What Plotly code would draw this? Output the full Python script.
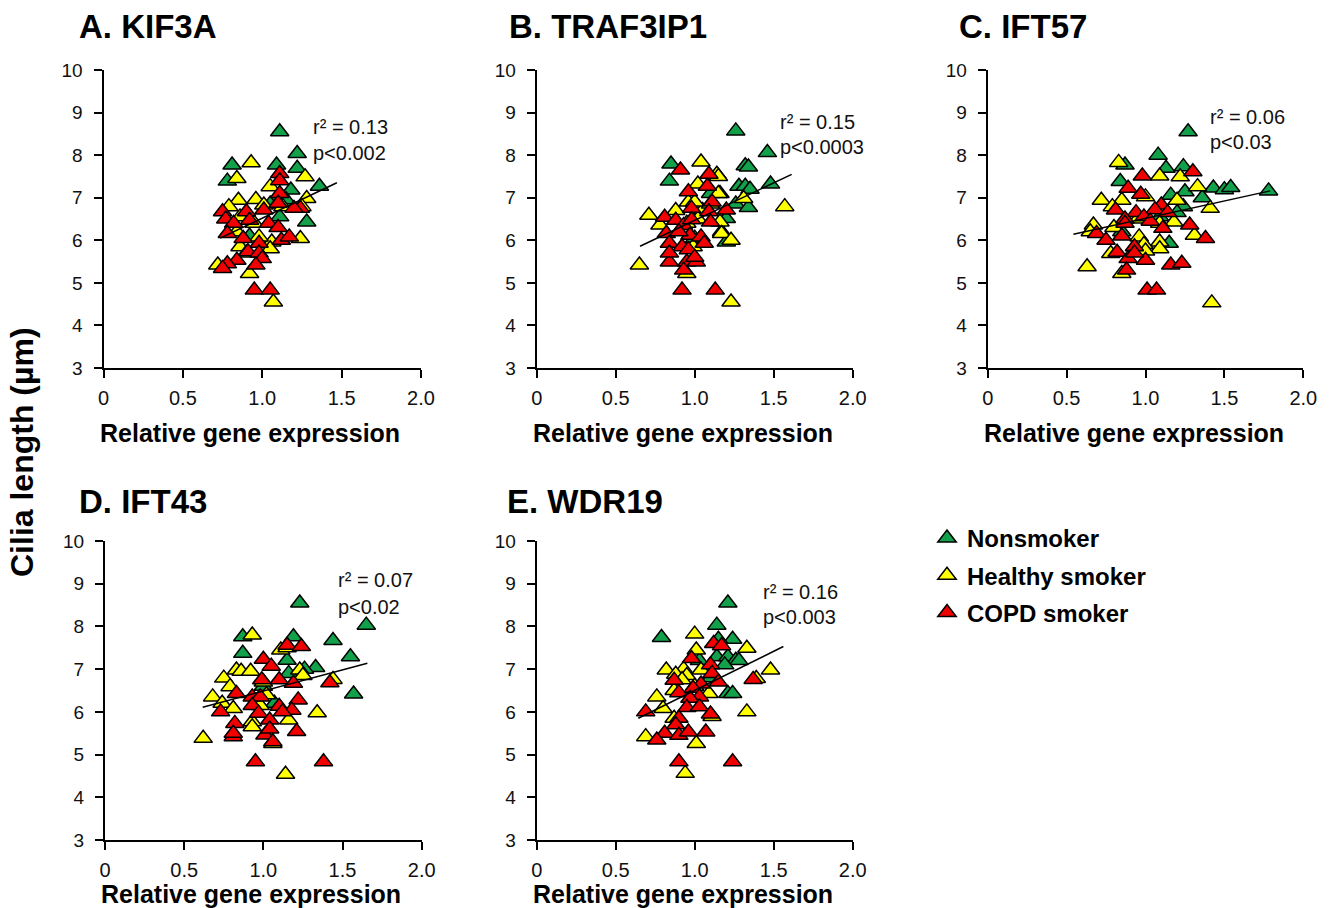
import plotly.graph_objects as go

# ---- data: relative gene expression (x) vs cilia length in µm (y) ----
panel_titles = ["A. KIF3A", "B. TRAF3IP1", "C. IFT57", "D. IFT43", "E. WDR19"]
r2_labels = ["r² = 0.13", "r² = 0.15", "r² = 0.06", "r² = 0.07", "r² = 0.16"]
p_labels = ["p<0.002", "p<0.0003", "p<0.03", "p<0.02", "p<0.003"]
group_names = ["Nonsmoker", "Healthy smoker", "COPD smoker"]
group_colors = ["#13A04B", "#FFFF00", "#F20000"]

# linear fit for each panel: x span of the line, slope, intercept
fit_x0 = [0.735, 0.654, 0.543, 0.617, 0.643]
fit_x1 = [1.470, 1.614, 1.790, 1.657, 1.561]
fit_slope = [1.769, 1.760, 0.818, 0.990, 1.830]
fit_intercept = [4.750, 4.709, 5.696, 5.499, 4.673]

# A. KIF3A
kif3a_non_x = [1.11, 1.22, 0.81, 1.09, 1.22, 0.78, 1.36, 1.18, 1.28, 1.11, 1.10, 0.92, 1.05, 1.15]
kif3a_non_y = [8.55, 8.04, 7.77, 7.77, 7.69, 7.39, 7.27, 7.18, 6.43, 6.55, 7.00, 6.10, 6.85, 6.95]
kif3a_hs_x = [0.93, 0.84, 1.27, 1.05, 1.28, 0.85, 0.96, 0.79, 1.01, 1.25, 1.13, 0.86, 0.95, 0.84,
              1.24, 1.06, 0.98, 0.86, 1.05, 0.72, 0.92, 1.07, 0.90]
kif3a_hs_y = [7.82, 7.45, 7.49, 7.26, 6.98, 6.94, 6.96, 6.79, 6.83, 6.79, 6.79, 6.55, 6.40, 6.20,
              6.04, 5.96, 6.08, 5.85, 5.80, 5.42, 5.22, 4.55, 5.70]
kif3a_copd_x = [1.11, 1.11, 1.11, 1.10, 1.24, 1.20, 1.01, 0.90, 0.75, 0.77, 0.82, 0.92, 1.04, 0.78,
                1.10, 0.88, 0.98, 1.12, 1.17, 0.91, 0.98, 1.00, 0.84, 0.78, 0.75, 0.96, 0.95, 1.05]
kif3a_copd_y = [7.57, 7.40, 7.10, 6.87, 6.75, 6.75, 6.71, 6.67, 6.67, 6.50, 6.40, 6.47, 6.40, 6.16,
                6.30, 6.04, 5.93, 6.00, 6.08, 5.73, 5.70, 5.57, 5.53, 5.45, 5.34, 5.42, 4.83, 4.83]

# B. TRAF3IP1
traf3ip1_non_x = [1.26, 1.46, 0.85, 1.32, 1.34, 0.84, 1.48, 1.28, 1.32, 1.35, 1.16, 1.26, 1.34,
                  1.20, 1.17, 1.20, 1.00, 1.10]
traf3ip1_non_y = [8.57, 8.06, 7.79, 7.75, 7.72, 7.39, 7.32, 7.27, 7.27, 7.20, 7.10, 6.85, 6.77,
                  6.51, 6.20, 5.96, 6.05, 7.10]
traf3ip1_hs_x = [1.04, 1.14, 1.02, 1.15, 1.57, 0.71, 1.31, 1.16, 1.17, 1.23, 0.65, 1.23, 0.95,
                 0.99, 0.78, 0.88, 0.96, 1.05, 1.00, 0.95, 1.10, 1.02, 1.15]
traf3ip1_hs_y = [7.84, 7.55, 7.32, 7.50, 6.79, 6.59, 6.98, 6.43, 6.16, 6.00, 5.42, 4.55, 5.22,
                 5.85, 6.36, 6.70, 6.90, 6.70, 6.90, 6.40, 6.85, 6.50, 7.10]
traf3ip1_copd_x = [0.91, 1.09, 1.08, 0.96, 1.11, 0.98, 0.81, 1.20, 1.09, 0.88, 0.93, 1.10, 0.98,
                   0.82, 0.97, 0.90, 1.04, 0.84, 1.06, 0.92, 0.96, 0.84, 0.95, 1.01, 0.93, 0.84,
                   0.92, 1.13, 1.00]
traf3ip1_copd_y = [7.65, 7.55, 7.27, 7.14, 6.90, 6.75, 6.54, 6.71, 6.67, 6.47, 6.35, 6.43, 6.48,
                   6.16, 6.12, 6.20, 6.08, 5.93, 5.93, 5.85, 5.78, 5.49, 5.49, 5.49, 5.30, 5.70,
                   4.83, 4.83, 5.60]

# C. IFT57
ift57_non_x = [1.27, 1.08, 0.87, 1.13, 1.24, 0.84, 1.43, 1.50, 1.54, 1.78, 1.25, 1.16, 1.36, 1.24,
               1.20, 1.09, 1.15, 0.85]
ift57_non_y = [8.55, 8.00, 7.77, 7.69, 7.73, 7.38, 7.23, 7.19, 7.24, 7.16, 7.14, 7.06, 7.00, 6.79,
               6.65, 6.55, 5.93, 6.20]
ift57_hs_x = [0.83, 1.09, 1.22, 1.33, 1.41, 0.72, 0.85, 0.79, 1.00, 1.20, 0.67, 0.65, 1.18, 0.80,
              1.09, 1.31, 0.96, 1.09, 1.09, 0.78, 0.99, 1.00, 0.63, 0.85, 1.42, 0.95]
ift57_hs_y = [7.83, 7.51, 7.49, 7.26, 6.75, 6.94, 6.94, 6.79, 7.02, 6.94, 6.36, 6.20, 6.43, 6.30,
              6.40, 6.12, 6.08, 5.96, 5.80, 5.69, 5.90, 5.75, 5.38, 5.22, 4.53, 6.50]
ift57_copd_x = [1.30, 0.98, 0.89, 0.97, 1.10, 1.06, 0.81, 0.94, 1.14, 0.99, 0.87, 1.03, 0.87, 1.28,
                1.11, 0.69, 0.75, 0.85, 1.38, 0.93, 0.82, 0.89, 1.00, 0.93, 1.16, 1.23, 0.88,
                1.01, 1.07]
ift57_copd_y = [7.61, 7.51, 7.22, 7.08, 6.83, 6.72, 6.71, 6.65, 6.65, 6.55, 6.50, 6.45, 6.40, 6.36,
                6.28, 6.16, 6.00, 6.10, 6.04, 5.85, 5.72, 5.57, 5.53, 5.70, 5.42, 5.46, 5.30,
                4.83, 4.83]

# D. IFT43
ift43_non_x = [1.23, 1.65, 1.44, 0.87, 0.87, 1.55, 1.19, 1.33, 1.15, 1.26, 1.57, 1.07, 1.00, 1.16]
ift43_non_y = [8.55, 8.03, 7.67, 7.76, 7.37, 7.29, 7.76, 7.04, 7.21, 7.00, 6.42, 6.20, 6.60, 6.90]
ift43_hs_x = [0.93, 1.11, 1.15, 0.75, 0.83, 0.86, 0.92, 0.68, 0.79, 0.74, 1.23, 1.25, 1.44, 0.81,
              0.93, 0.93, 1.16, 1.34, 0.62, 1.06, 1.14, 1.00, 1.02, 0.98]
ift43_hs_y = [7.80, 7.45, 7.50, 6.79, 6.98, 6.95, 6.95, 6.35, 6.59, 6.20, 6.98, 6.85, 6.76, 6.08,
              5.77, 5.65, 5.81, 5.98, 5.38, 5.26, 4.54, 6.70, 6.40, 6.15]
ift43_copd_x = [1.15, 1.24, 1.00, 1.05, 1.10, 1.19, 1.42, 0.99, 0.83, 0.93, 0.98, 1.22, 0.73, 0.93,
                0.97, 1.10, 1.18, 1.12, 1.04, 0.82, 0.81, 1.01, 1.21, 1.06, 0.95, 1.38, 0.81, 1.04]
ift43_copd_y = [7.56, 7.53, 7.23, 7.07, 6.75, 6.67, 6.68, 6.75, 6.43, 6.35, 6.35, 6.28, 6.00, 6.15,
                5.97, 6.13, 6.04, 6.00, 5.81, 5.73, 5.42, 5.46, 5.54, 5.30, 4.83, 4.83, 5.50, 5.60]

# E. WDR19
wdr19_non_x = [1.21, 0.79, 1.14, 1.24, 1.15, 1.14, 1.21, 1.26, 1.28, 1.19, 1.03, 1.21, 1.24, 1.10]
wdr19_non_y = [8.55, 7.74, 8.03, 7.70, 7.70, 7.29, 7.29, 7.21, 7.20, 7.10, 7.20, 6.43, 6.43, 6.80]
wdr19_hs_x = [1.00, 1.33, 1.01, 1.48, 0.82, 1.39, 0.93, 0.95, 1.04, 0.88, 0.76, 0.87, 1.09, 1.33,
              0.80, 1.11, 0.87, 0.69, 1.01, 0.94, 0.92, 1.00]
wdr19_hs_y = [7.82, 7.49, 7.45, 6.98, 6.98, 6.78, 7.00, 6.85, 6.98, 6.88, 6.35, 6.50, 6.43, 6.00,
              6.08, 5.89, 5.85, 5.42, 5.26, 4.56, 6.75, 6.60]
wdr19_copd_x = [1.12, 1.17, 0.98, 1.10, 1.37, 0.87, 1.11, 1.15, 1.04, 0.99, 0.90, 1.03, 0.97, 0.69,
                0.95, 1.03, 1.10, 0.90, 0.88, 0.81, 0.76, 0.90, 0.96, 1.07, 0.90, 1.24]
wdr19_copd_y = [7.60, 7.55, 7.25, 7.10, 6.76, 6.74, 6.90, 6.70, 6.65, 6.55, 6.45, 6.35, 6.32, 6.00,
                6.10, 6.12, 5.95, 5.85, 5.70, 5.50, 5.34, 5.45, 5.53, 5.53, 4.83, 4.83]

x_tick_vals = [0, 0.5, 1.0, 1.5, 2.0]
x_tick_text = ["0", "0.5", "1.0", "1.5", "2.0"]
y_tick_vals = [3, 4, 5, 6, 7, 8, 9, 10]

panel_groups = [
    [(kif3a_non_x, kif3a_non_y), (kif3a_hs_x, kif3a_hs_y), (kif3a_copd_x, kif3a_copd_y)],
    [(traf3ip1_non_x, traf3ip1_non_y), (traf3ip1_hs_x, traf3ip1_hs_y), (traf3ip1_copd_x, traf3ip1_copd_y)],
    [(ift57_non_x, ift57_non_y), (ift57_hs_x, ift57_hs_y), (ift57_copd_x, ift57_copd_y)],
    [(ift43_non_x, ift43_non_y), (ift43_hs_x, ift43_hs_y), (ift43_copd_x, ift43_copd_y)],
    [(wdr19_non_x, wdr19_non_y), (wdr19_hs_x, wdr19_hs_y), (wdr19_copd_x, wdr19_copd_y)],
]

# ---- layout geometry (pixels in a 1329 x 908 canvas) ----
W, H = 1329, 908
FONT = "Arial, 'Liberation Sans', sans-serif"
# plot-area boxes: (left, right, top, bottom)
boxes = [
    (103.5, 421.0, 70.0, 368.0),
    (536.7, 852.7, 70.0, 368.0),
    (987.7, 1303.3, 70.0, 368.0),
    (105.0, 421.7, 541.0, 840.0),
    (536.7, 852.7, 541.0, 840.0),
]
title_pos = [(77, 27), (507, 27), (957, 27), (77, 501), (505, 501)]
xtitle_y = [433, 433, 433, 894, 894]
# r²/p annotation anchors in data units: (x, y of r² line, y of p line)
stat_pos = [(1.305, 8.67, 8.05), (1.525, 8.79, 8.20), (1.395, 8.89, 8.31),
            (1.46, 9.09, 8.46), (1.42, 8.81, 8.23)]

fig = go.Figure()
annotations = []
layout_axes = {}

for i in range(5):
    sfx = "" if i == 0 else str(i + 1)
    xa, ya = "x" + sfx, "y" + sfx
    left, right, top, bottom = boxes[i]

    for g, (gx, gy) in enumerate(panel_groups[i]):
        fig.add_trace(go.Scatter(
            x=gx, y=gy, mode="markers", xaxis=xa, yaxis=ya,
            name=group_names[g], legendgroup=group_names[g], showlegend=(i == 0),
            marker=dict(symbol="triangle-up", size=16, color=group_colors[g],
                        line=dict(color="black", width=1.5)),
            cliponaxis=False,
        ))

    lx = [fit_x0[i], fit_x1[i]]
    ly = [fit_intercept[i] + fit_slope[i] * v for v in lx]
    fig.add_trace(go.Scatter(x=lx, y=ly, mode="lines", xaxis=xa, yaxis=ya,
                             line=dict(color="black", width=1.5), showlegend=False,
                             hoverinfo="skip"))

    axis_common = dict(showline=True, linecolor="black", linewidth=2, ticks="outside",
                       ticklen=8, tickwidth=2, tickcolor="black", showgrid=False,
                       zeroline=False, mirror=False, automargin=False)
    layout_axes["xaxis" + sfx] = dict(
        axis_common, domain=[left / W, right / W], anchor=ya, range=[0, 2],
        tickvals=x_tick_vals, ticktext=x_tick_text, ticklabelstandoff=3,
        tickfont=dict(family=FONT, size=20, color="#111"))
    layout_axes["yaxis" + sfx] = dict(
        axis_common, domain=[1 - bottom / H, 1 - top / H], anchor=xa, range=[3, 10],
        tickvals=y_tick_vals, ticklabelstandoff=7,
        tickfont=dict(family=FONT, size=19, color="#111"))

    tx, ty = title_pos[i]
    annotations.append(dict(text=panel_titles[i], xref="paper", yref="paper",
                            x=tx / W, y=1 - ty / H, xanchor="left", yanchor="middle",
                            showarrow=False,
                            font=dict(family=FONT, size=33, color="black", weight="bold")))
    annotations.append(dict(text="Relative gene expression", xref="paper", yref="paper",
                            x=((left + right) / 2 - 12) / W, y=1 - xtitle_y[i] / H,
                            xanchor="center", yanchor="middle", showarrow=False,
                            font=dict(family=FONT, size=25, color="black", weight="bold")))
    sx, sy1, sy2 = stat_pos[i]
    for txt, sy in ((r2_labels[i], sy1), (p_labels[i], sy2)):
        annotations.append(dict(text=txt, xref=xa, yref=ya, x=sx, y=sy,
                                xanchor="left", yanchor="middle", showarrow=False,
                                font=dict(family=FONT, size=20, color="#111")))

annotations.append(dict(text="Cilia length (µm)", xref="paper", yref="paper",
                        x=22 / W, y=1 - 452 / H, xanchor="center", yanchor="middle",
                        textangle=-90, showarrow=False,
                        font=dict(family=FONT, size=32, color="black", weight="bold")))

fig.update_layout(
    width=W, height=H, margin=dict(l=0, r=0, t=0, b=0, autoexpand=False),
    paper_bgcolor="white", plot_bgcolor="white",
    annotations=annotations,
    legend=dict(x=927 / W, y=1 - 516 / H, xanchor="left", yanchor="top",
                font=dict(family=FONT, size=24, color="black", weight="bold"),
                tracegroupgap=3, itemsizing="trace", bgcolor="rgba(0,0,0,0)"),
    **layout_axes,
)

# page body without its default margin so the figure sits at the window origin
fig.write_html("out.html", post_script="document.body.style.margin='0';")
